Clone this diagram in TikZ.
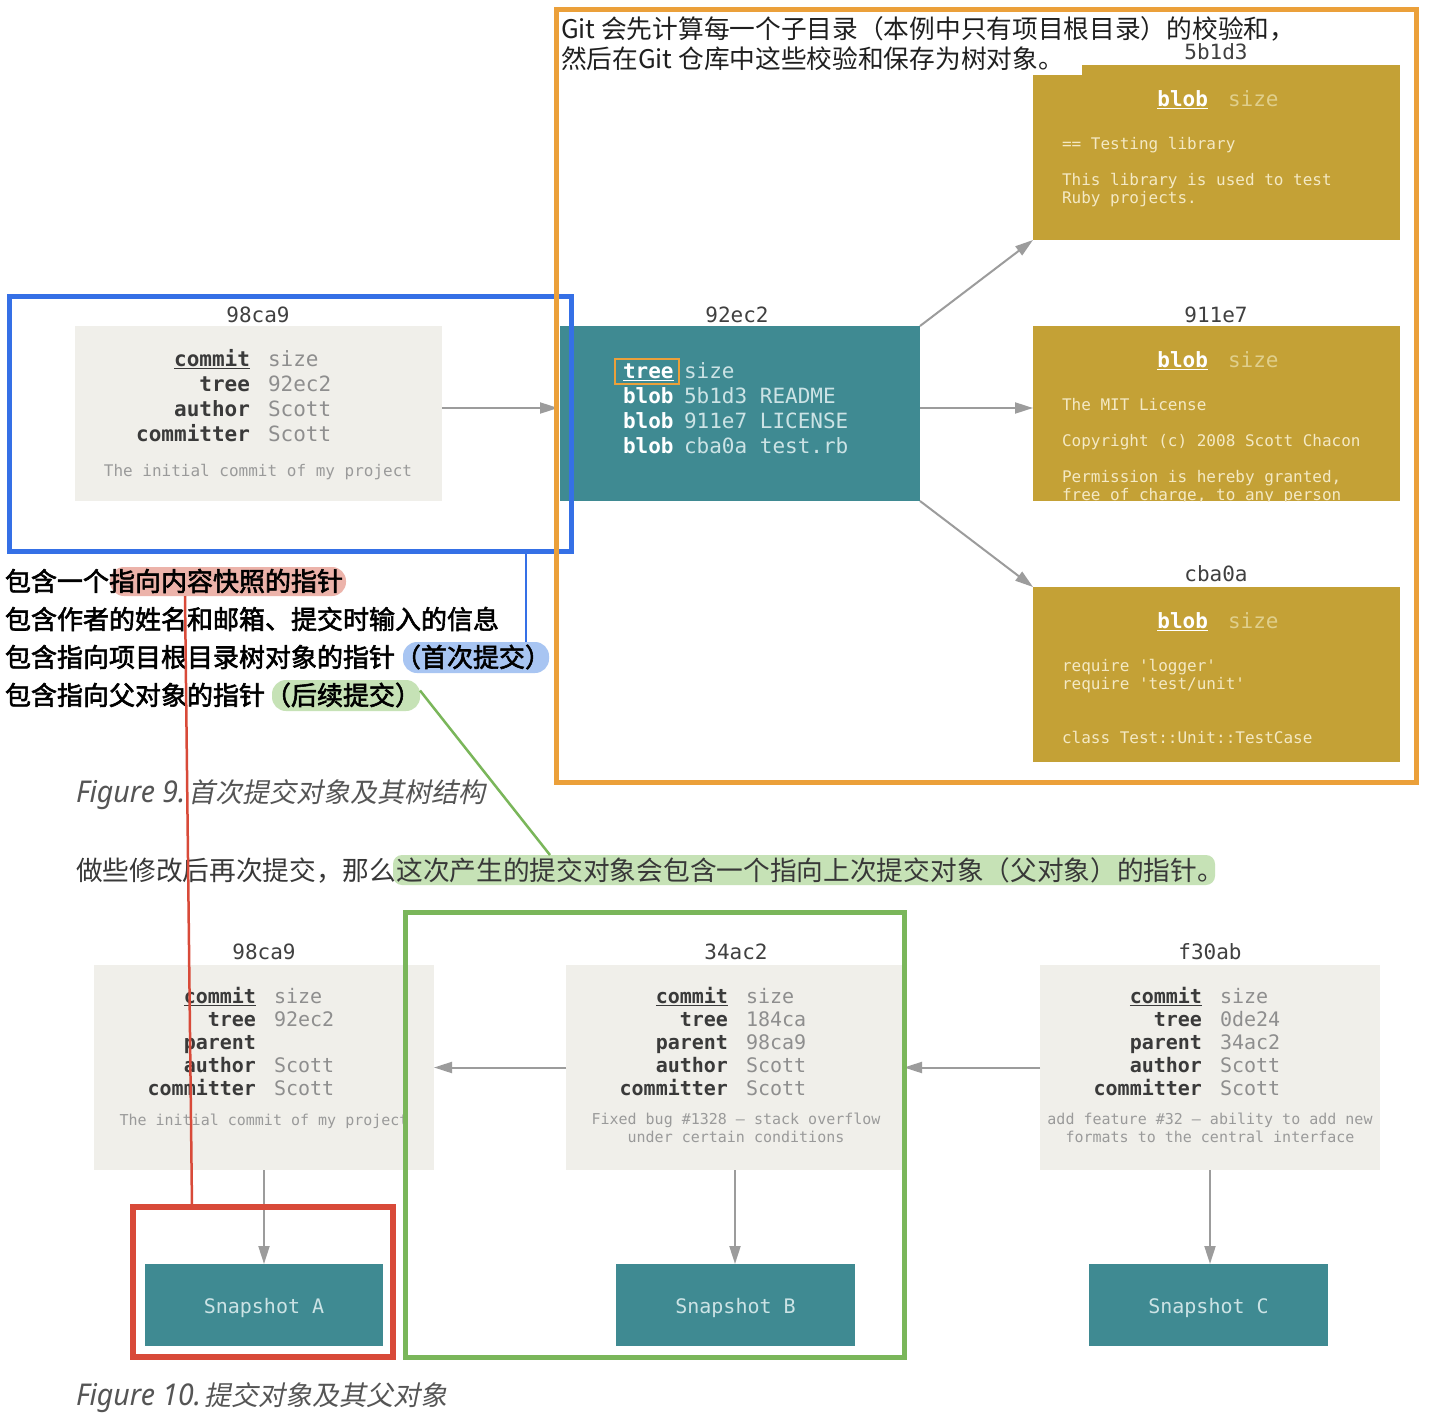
\documentclass[tikz,border=0pt]{standalone}
\usepackage{fontspec}
\usetikzlibrary{arrows.meta}
\newfontfamily\cjk{Noto Sans CJK SC}
\newfontfamily\cjkbold[FakeBold=2.2]{Noto Sans CJK SC}
\newfontfamily\cjkit[FakeSlant=0.2]{Noto Sans CJK SC}
\newfontfamily\capfont[FakeStretch=0.95]{Noto Sans}
\newfontfamily\mono{DejaVu Sans Mono}

\definecolor{frameorange}{HTML}{EBA03A}
\definecolor{frameblue}{HTML}{3570E6}
\definecolor{framered}{HTML}{D84A39}
\definecolor{framegreen}{HTML}{7AB65A}
\definecolor{gitteal}{HTML}{3F8A92}
\definecolor{gitgold}{HTML}{C4A136}
\definecolor{commitbg}{HTML}{F0EFEA}
\definecolor{keygray}{HTML}{3A3A3A}
\definecolor{valgray}{HTML}{8E8E8E}
\definecolor{msggray}{HTML}{9A9A9A}
\definecolor{hashgray}{HTML}{404040}
\definecolor{arrowgray}{HTML}{9C9C9C}
\definecolor{tealtext}{HTML}{CCE3E5}
\definecolor{goldtext}{HTML}{F4E9C4}
\definecolor{goldsize}{HTML}{E0CF8C}
\definecolor{pillred}{HTML}{ECB3AA}
\definecolor{pillblue}{HTML}{A8C5F2}
\definecolor{pillgreen}{HTML}{C6E2B6}
\definecolor{capgray}{HTML}{555555}

\begin{document}
\begin{tikzpicture}[x=1pt,y=-1pt,
  every node/.style={inner sep=0pt, outer sep=0pt},
  commitbox/.style={fill=commitbg, anchor=north west},
  treebox/.style={fill=gitteal, anchor=north west},
  blobbox/.style={fill=gitgold, anchor=north west},
  hash/.style={font=\mono\fontsize{21}{21}\selectfont, text=hashgray},
  ckey/.style={font=\mono\bfseries\fontsize{21}{25}\selectfont, text=keygray, anchor=mid east, yshift=-5pt},
  cval/.style={font=\mono\fontsize{21}{25}\selectfont, text=valgray, anchor=mid west, yshift=-5pt},
  bkey/.style={font=\mono\bfseries\fontsize{20}{23}\selectfont, text=keygray, anchor=mid east, yshift=-5pt},
  bval/.style={font=\mono\fontsize{20}{23}\selectfont, text=valgray, anchor=mid west, yshift=-5pt},
  cmsg/.style={font=\mono\fontsize{16}{18}\selectfont, text=msggray, yshift=-2pt},
  bmsg/.style={font=\mono\fontsize{15}{18}\selectfont, text=msggray, align=center, yshift=-3pt},
  tkey/.style={font=\mono\bfseries\fontsize{21}{25}\selectfont, text=white, anchor=mid west, yshift=-5pt},
  tval/.style={font=\mono\fontsize{21}{25}\selectfont, text=tealtext, anchor=mid west, yshift=-5pt},
  blobkey/.style={font=\mono\bfseries\fontsize{21}{25}\selectfont, text=white, anchor=mid east, yshift=-5pt},
  blobsize/.style={font=\mono\fontsize{21}{25}\selectfont, text=goldsize, anchor=mid west, yshift=-5pt},
  blobline/.style={font=\mono\fontsize{16}{18}\selectfont, text=goldtext, anchor=mid west, yshift=-4pt},
  snaptext/.style={font=\mono\fontsize{20}{20}\selectfont, text=tealtext, yshift=-3pt},
  link/.style={draw=arrowgray, line width=2pt, -{Triangle[length=18pt,width=11pt]}},
  pill/.style={rounded corners=14pt, anchor=north west},
  note/.style={font=\cjkbold\fontsize{26}{30}\selectfont, text=black, anchor=west},
  plain/.style={font=\cjk\fontsize{25.7}{30}\selectfont, text=black!88, anchor=base west},
  frame/.style={line width=5pt, anchor=north west},
  pointer/.style={line width=2.5pt}
]
\useasboundingbox (0,0) rectangle (1433,1416);
\fill[white] (0,0) rectangle (1433,1416);

% ---- highlight pills behind the notes ----
\node[pill, fill=pillred, minimum width=236pt, minimum height=29pt] (pillR) at (110,567) {};
\node[pill, fill=pillblue, minimum width=146pt, minimum height=31pt] (pillB) at (403,642) {};
\node[pill, fill=pillgreen, minimum width=148pt, minimum height=31pt] (pillG) at (272,680) {};
\node[pill, fill=pillgreen, rounded corners=9pt, minimum width=822pt, minimum height=30pt] (hlG) at (393,855) {};

% ---- first commit and its tree ----
\node[commitbox, minimum width=367pt, minimum height=175pt] (c0) at (75,326) {};
\node[hash] (c0h) at (258,315) {98ca9};
\node[ckey] (c0k1) at (250,359) {\underline{commit}};
\node[cval] (c0v1) at (268,359) {size};
\foreach \k/\v [count=\i from 2] in {tree/92ec2, author/Scott, committer/Scott}{
  \node[ckey] (c0k\i) at (250,{359+25*(\i-1)}) {\k};
  \node[cval] (c0v\i) at (268,{359+25*(\i-1)}) {\v};
}
\node[cmsg] (c0m) at (258,470) {The initial commit of my project};

\node[treebox, minimum width=360pt, minimum height=175pt] (tr) at (560,326) {};
\node[hash] (trh) at (737,315) {92ec2};
\node[tkey] (trk1) at (623,371) {\underline{tree}};
\node[draw=frameorange, line width=2pt, minimum width=64pt, minimum height=25pt, anchor=north west] (trmark) at (614.5,358.5) {};
\node[tval] (trv1) at (684,371) {size};
\foreach \v [count=\i from 2] in {5b1d3 README, 911e7 LICENSE, cba0a test.rb}{
  \node[tkey] (trk\i) at (623,{371+25*(\i-1)}) {blob};
  \node[tval] (trv\i) at (684,{371+25*(\i-1)}) {\v};
}

% ---- blobs ----
\node[blobbox, minimum width=367pt, minimum height=175pt] (b1) at (1033,65) {};
\node[blobbox, minimum width=367pt, minimum height=175pt] (b2) at (1033,326) {};
\node[blobbox, minimum width=367pt, minimum height=175pt] (b3) at (1033,587) {};
\node[hash] (b1h) at (1216,52) {5b1d3};
\node[hash] (b2h) at (1216,315) {911e7};
\node[hash] (b3h) at (1216,574) {cba0a};
\foreach \n/\t in {b1/65, b2/326, b3/587}{
  \node[blobkey] (\n k) at (1208,{\t+34}) {\underline{blob}};
  \node[blobsize] (\n s) at (1228,{\t+34}) {size};
}
\node[blobline] (b1l1) at (1062,143) {== Testing library};
\node[blobline] (b1l2) at (1062,179) {This library is used to test};
\node[blobline] (b1l3) at (1062,197) {Ruby projects.};
\begin{scope}
  \clip (1033,326) rectangle (1400,501);
  \node[blobline] (b2l1) at (1062,404) {The MIT License};
  \node[blobline] (b2l2) at (1062,440) {Copyright (c) 2008 Scott Chacon};
  \node[blobline] (b2l3) at (1062,476) {Permission is hereby granted,};
  \node[blobline] (b2l4) at (1062,494) {free of charge, to any person};
\end{scope}
\node[blobline] (b3l1) at (1062,665) {require 'logger'};
\node[blobline] (b3l2) at (1062,683) {require 'test/unit'};
\node[blobline] (b3l3) at (1062,737) {class Test::Unit::TestCase};

% ---- links of the first commit ----
\draw[link] ([yshift=5.5pt]c0.east) -- ([yshift=5.5pt,xshift=-2pt]tr.west);
\draw[link] (tr.north east) -- (b1.south west);
\draw[link] ([yshift=5.5pt]tr.east) -- ([yshift=5.5pt]b2.west);
\draw[link] (tr.south east) -- (b3.north west);

% ---- explanation text at the top ----
\node[plain, fill=white, inner xsep=6pt, inner ysep=5pt] (topline2) at (555,68) {然后在Git 仓库中这些校验和保存为树对象。\kern12pt\null};
\node[plain] (topline1) at (561,38) {Git 会先计算每一个子目录（本例中只有项目根目录）的校验和，};

% ---- notes on the commit object ----
\node[note] (n1) at (5,581) {包含一个指向内容快照的指针};
\node[note] (n2) at (5,619) {包含作者的姓名和邮箱、提交时输入的信息};
\node[note] (n3) at (5,657) {包含指向项目根目录树对象的指针（首次提交）};
\node[note] (n4) at (5,695) {包含指向父对象的指针（后续提交）};

% ---- captions and paragraph ----
\node[anchor=base west, text=capgray] (cap9) at (76,802)
  {{\capfont\itshape\fontsize{30}{30}\selectfont Figure 9.}\hspace{3pt}{\cjkit\fontsize{27}{30}\selectfont 首次提交对象及其树结构}};
\node[anchor=base west, font=\cjk\fontsize{26.7}{30}\selectfont, text=black!78] (para) at (76,880)
  {做些修改后再次提交，那么这次产生的提交对象会包含一个指向上次提交对象（父对象）的指针。};
\node[anchor=base west, text=capgray] (cap10) at (76,1405)
  {{\capfont\itshape\fontsize{30}{30}\selectfont Figure 10.}\hspace{3pt}{\cjkit\fontsize{27}{30}\selectfont 提交对象及其父对象}};

% ---- commit history ----
\node[commitbox, minimum width=340pt, minimum height=205pt] (cb1) at (94,965) {};
\node[commitbox, minimum width=338pt, minimum height=205pt] (cb2) at (566,965) {};
\node[commitbox, minimum width=340pt, minimum height=205pt] (cb3) at (1040,965) {};
\node[hash] (cb1h) at (264,952) {98ca9};
\node[hash] (cb2h) at (736,952) {34ac2};
\node[hash] (cb3h) at (1210,952) {f30ab};
\foreach \n/\kx/\tr/\pa in {cb1/256/92ec2/{}, cb2/728/184ca/98ca9, cb3/1202/0de24/34ac2}{
  \node[bkey] (\n k1) at (\kx,996) {\underline{commit}};
  \node[bval] (\n v1) at (\kx+18,996) {size};
  \node[bkey] (\n k2) at (\kx,1019) {tree};
  \node[bval] (\n v2) at (\kx+18,1019) {\tr};
  \node[bkey] (\n k3) at (\kx,1042) {parent};
  \node[bval] (\n v3) at (\kx+18,1042) {\pa};
  \node[bkey] (\n k4) at (\kx,1065) {author};
  \node[bval] (\n v4) at (\kx+18,1065) {Scott};
  \node[bkey] (\n k5) at (\kx,1088) {committer};
  \node[bval] (\n v5) at (\kx+18,1088) {Scott};
}
\node[bmsg] (cb1m) at (264,1118) {The initial commit of my project};
\node[bmsg, anchor=north] (cb2m) at (736,1110) {Fixed bug \#1328 – stack overflow\\under certain conditions};
\node[bmsg, anchor=north] (cb3m) at (1210,1110) {add feature \#32 – ability to add new\\formats to the central interface};

\node[treebox, minimum width=238pt, minimum height=82pt] (snapA) at (145,1264) {};
\node[treebox, minimum width=239pt, minimum height=82pt] (snapB) at (616,1264) {};
\node[treebox, minimum width=239pt, minimum height=82pt] (snapC) at (1089,1264) {};
\node[snaptext] (snapAt) at (snapA.center) {Snapshot A};
\node[snaptext] (snapBt) at (snapB.center) {Snapshot B};
\node[snaptext] (snapCt) at (snapC.center) {Snapshot C};

\draw[link] (cb2.west) -- (cb1.east);
\draw[link] (cb3.west) -- (cb2.east);
\draw[link] (cb1.south) -- (cb1.south |- snapA.north);
\draw[link] (cb2.south) -- (cb2.south |- snapB.north);
\draw[link] (cb3.south) -- (cb3.south |- snapC.north);

% ---- coloured frames and their pointers ----
\node[frame, draw=frameblue, minimum width=561.5pt, minimum height=255pt] (fB) at (9.5,296) {};
\node[frame, draw=frameorange, minimum width=860pt, minimum height=773pt] (fO) at (556.5,9.5) {};
\node[frame, draw=framered, line width=6pt, minimum width=260pt, minimum height=150pt] (fR) at (133,1207) {};
\node[frame, draw=framegreen, minimum width=499pt, minimum height=445pt] (fG) at (405.5,912.5) {};

\draw[pointer, frameblue] (fB.south -| 526,0) -- (pillB.north -| 526,0);
\draw[pointer, framered] (pillR.south -| 185,0) -- (fR.north -| 192,0);
\draw[pointer, framegreen] ([yshift=5pt]pillG.east) -- (hlG.north -| 550,0);
\end{tikzpicture}
\end{document}
